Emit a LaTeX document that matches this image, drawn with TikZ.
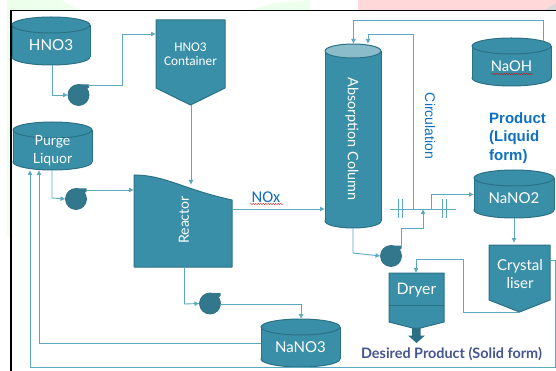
\documentclass[tikz,border=0pt]{standalone}
\usepackage{fontspec}
\setmainfont{Lato}
\newfontfamily\calib{Carlito}
\newfontfamily\arial{Liberation Sans}
\usetikzlibrary{arrows.meta,decorations.pathmorphing}
\definecolor{eqfill}{HTML}{3A8FA8}
\definecolor{eqedge}{HTML}{2B7186}
\definecolor{pipe}{HTML}{5BA9BE}
\definecolor{pumpfill}{HTML}{33778C}
\definecolor{coltop}{HTML}{8BBCC9}
\definecolor{blutext}{HTML}{0F70C0}
\definecolor{navytext}{HTML}{44558F}
\tikzset{
  eq/.style={fill=eqfill,draw=eqedge,line width=1pt,line join=round},
  pipeline/.style={draw=pipe,line width=0.9pt},
  flow/.style={pipeline,-{Latex[length=5pt,width=5pt]}},
  wlabel/.style={text=white,align=center,inner sep=0pt},
  spell/.style={draw=red!80!black,line width=0.4pt,decorate,decoration={snake,amplitude=0.5pt,segment length=2.5pt}}
}
% name, cx, cy, w, h, top fill
\newcommand{\tank}[6]{%
  \node[inner sep=0pt,outer sep=0pt,minimum width=#4pt,minimum height=#5pt] (#1) at (#2,#3) {};
  \draw[eq] ([yshift=8pt]#1.south) ellipse[x radius=#4pt/2,y radius=8pt];
  \fill[eqfill] ([yshift=-8pt]#1.north west) rectangle ([yshift=8pt]#1.south east);
  \draw[eq] ([yshift=-8pt]#1.north west) -- ([yshift=8pt]#1.south west);
  \draw[eq] ([yshift=-8pt]#1.north east) -- ([yshift=8pt]#1.south east);
  \draw[eq,fill=#6] ([yshift=-8pt]#1.north) ellipse[x radius=#4pt/2,y radius=8pt];
}
\newcommand{\pump}[3]{%
  \node[circle,fill=pumpfill,draw=eqedge,line width=0.8pt,minimum size=21pt,inner sep=0pt,outer sep=0pt] (#1) at (#2,#3) {};
  \fill[pumpfill] (#1.north) -- ++(10.5pt,0pt) -- ++(0pt,-3pt) -- ++(-2.5pt,-2pt) -- ++(-8pt,-4pt) -- cycle;
}
\begin{document}
\begin{tikzpicture}[x=1pt,y=-1pt]
\useasboundingbox (0,0) rectangle (556,371);
\fill[white] (0,0) rectangle (556,371);
% page tints
\fill[green!8!white] (7,0) rectangle (33,10);
\fill[green!8!white] (7,0) rectangle (10,237);
\fill[green!7!white] (33,0) -- (60,0) -- (80,10) -- (33,10) -- cycle;
\fill[green!7!white] (250,10) -- (275,3) -- (310,0) -- (310,10) -- cycle;
\fill[red!15!white] (358,0) rectangle (556,10);
\fill[gray!30] (545,10) -- (556,3) -- (556,10) -- cycle;
% frame
\draw[black,line width=1pt] (556,10.5) -- (11,10.5);
\draw[black,line width=2pt] (11,10) -- (11,371);

% equipment
\tank{hno}{51}{41}{78}{48}{eqfill}
\tank{purge}{52.5}{146}{79}{48}{eqfill}
\tank{naoh}{511.5}{62}{79}{48}{eqfill}
\tank{nanotwo}{514}{194}{80}{48}{eqfill}
\tank{nanothree}{300.5}{343}{79}{48}{eqfill}
\node[inner sep=0pt,outer sep=0pt,minimum width=56pt,minimum height=184pt] (column) at (353,136) {};
\draw[eq] ([yshift=7pt]column.south) ellipse[x radius=28pt,y radius=7pt];
\fill[eqfill] ([yshift=-7pt]column.north west) rectangle ([yshift=7pt]column.south east);
\draw[eq] ([yshift=-7pt]column.north west) -- ([yshift=7pt]column.south west);
\draw[eq] ([yshift=-7pt]column.north east) -- ([yshift=7pt]column.south east);
\draw[eq,fill=coltop] ([yshift=-7pt]column.north) ellipse[x radius=28pt,y radius=7pt];

\node[inner sep=0pt,outer sep=0pt,minimum width=69pt,minimum height=85pt] (container) at (190.5,62.5) {};
\draw[eq] (container.north west) -- (container.north east) -- ++(0,68) -- (container.south) -- ++(-34.5,-17) -- cycle;
\node[inner sep=0pt,outer sep=0pt,minimum width=61pt,minimum height=67pt] (crystal) at (519.5,278.5) {};
\draw[eq] (crystal.north west) -- (crystal.north east) -- ++(0,55) -- (crystal.south) -- ++(-30.5,-12) -- cycle;
\node[inner sep=0pt,outer sep=0pt,minimum width=55pt,minimum height=55pt] (dryer) at (416.5,300.5) {};
\draw[eq] (dryer.north west) -- (dryer.north east) -- ++(0,49) -- (420.5,328) -- (412.5,328) -- (389,322) -- cycle;
\draw[eq] ([yshift=-32pt]dryer.north west) -- ([yshift=-32pt]dryer.north east);
\fill[eqedge] (412,328) -- (420.5,328) -- (420.5,335.5) -- (425,335.5) -- (416.5,343) -- (408,335.5) -- (412,335.5) -- cycle;
\node[inner sep=0pt,outer sep=0pt,minimum width=98pt,minimum height=92pt] (reactor) at (183,221) {};
\draw[eq] (reactor.north west) .. controls (165,175) and (185,190) .. (232,200) -- (reactor.south east) -- (reactor.south west) -- cycle;

% pumps
\pump{pumpa}{78.5}{95}
\pump{pumpb}{76}{199}
\pump{pumpc}{210}{303.5}
\pump{pumpd}{391}{256}

% connectors
\coordinate (hnoIn) at (156,34);
\draw[flow] (52,65) -- (52,95) -- (pumpa.west);
\draw[flow] (88,85.5) -- (122,85.5) -- (122,34) -- (hnoIn);
\draw[flow] (191,105) -- (191,185);
\draw[flow] (52,170) -- (52,198) -- (pumpb.west);
\draw[flow] (86,190) -- (134,190);
\draw[flow] (reactor.east |- 0,209) -- (column.west |- 0,209);
\draw[pipeline] (184,267) -- (184,304);
\draw[flow] (184,304) -- (pumpc.west);
\draw[flow] (220,304) -- (301,304) -- (301,319);
\draw[flow] (261,343) -- (39,343) -- (39,170);
\draw[flow] (550,260) -- (555,260) -- (555,367) -- (30,367) -- (30,170);
\draw[flow] (353,228) -- (353,253) -- (pumpd.west);
\draw[flow] (401,246) -- (401,228) -- (423,228) -- (423,209);
\draw[pipeline] (390,209) -- (456,209);
\foreach \vx in {398,402,442,446} \draw[pipeline] (\vx,199) -- (\vx,218);
\draw[flow] (413,209) -- (413,34) -- (368,34) -- (368,44);
\draw[flow] (431,209) -- (431,194.5) -- (474,194.5);
\draw[flow] (543,41) -- (543,20.5) -- (353.5,20.5) -- (353.5,44);
\draw[flow] (514,218) -- (514,243);
\draw[flow] (520,312) -- (463,312) -- (463,259) -- (416,259) -- (416,273);

% labels
\node[wlabel,font=\fontsize{15.2}{16}\selectfont] (thno) at (51,45) {HNO3};
\node[wlabel,font=\fontsize{14}{18}\selectfont] (tpurge) at (52.5,151) {Purge\\Liquor};
\node[wlabel,font=\calib\fontsize{13.3}{14}\selectfont] (tcont) at (190.5,54) {HNO3\\Container};
\node[wlabel,font=\fontsize{14.8}{16}\selectfont] (tnaoh) at (511.5,66) {NaOH};
\node[wlabel,font=\fontsize{15}{16}\selectfont] (tnn2) at (514,198) {NaNO2};
\node[wlabel,font=\fontsize{15}{16}\selectfont] (tnn3) at (300.5,347) {NaNO3};
\node[wlabel,font=\fontsize{15}{18}\selectfont] (tcrys) at (520,274) {Crystal\\liser};
\node[wlabel,font=\fontsize{15.8}{16}\selectfont] (tdry) at (416.5,290) {Dryer};
\node[wlabel,rotate=90,font=\fontsize{14}{16}\selectfont] (treac) at (184,220) {Reactor};
\node[wlabel,rotate=-90,font=\fontsize{14.4}{16}\selectfont] (tcol) at (352,139) {Absorption Column};
\node[inner sep=0pt,text=blutext,font=\calib\fontsize{16.5}{18}\selectfont] (tnox) at (266,197) {NOx};
\node[inner sep=0pt,text=blutext,rotate=-90,font=\arial\fontsize{14}{16}\selectfont] (tcirc) at (430,126) {Circulation};
\node[inner sep=0pt,text=blutext,align=left,anchor=north west,font=\arial\bfseries\fontsize{15}{18.5}\selectfont] (tprod) at (489,112) {Product\\(Liquid\\form)};
\node[inner sep=0pt,text=navytext,font=\bfseries\fontsize{14.4}{16}\selectfont] (tdes) at (451.5,354) {Desired Product (Solid form)};
\draw[spell] (250,204) -- (283,204);
\draw[spell] (491,74) -- (533,74);
\end{tikzpicture}
\end{document}
